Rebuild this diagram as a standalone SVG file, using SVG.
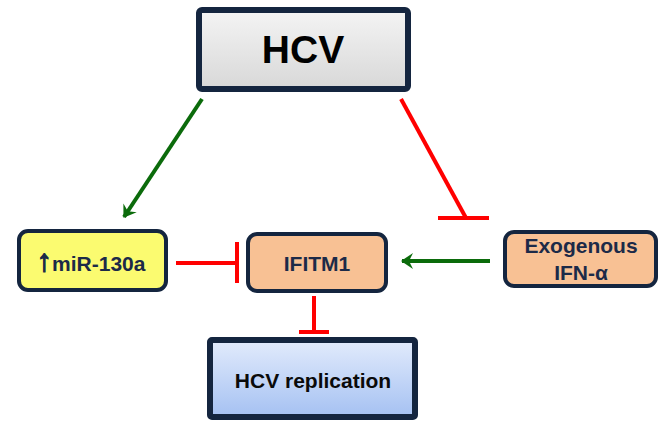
<svg xmlns="http://www.w3.org/2000/svg" width="665" height="425" viewBox="0 0 665 425">
  <defs>
    <linearGradient id="gHcv" x1="0" y1="0" x2="0" y2="1">
      <stop offset="0" stop-color="#f4f4f4"/>
      <stop offset="1" stop-color="#d8d8d8"/>
    </linearGradient>
    <linearGradient id="gRep" x1="0" y1="0" x2="0" y2="1">
      <stop offset="0" stop-color="#e2ebfc"/>
      <stop offset="1" stop-color="#a5c1f2"/>
    </linearGradient>
    <marker id="arrowGreen" viewBox="0 0 13 16" refX="11" refY="8" markerWidth="13" markerHeight="16" markerUnits="userSpaceOnUse" orient="auto">
      <path d="M0,0 L12,8 L0,16 L4,8 Z" fill="#0b6b0b"/>
    </marker>
  </defs>
  <style>
    .box { stroke: #14253f; }
    .lbl { font-family: "Liberation Sans", Arial, sans-serif; font-weight: bold; text-anchor: middle; }
    .navy { fill: #1c2a48; }
    .act { stroke: #0b6b0b; stroke-width: 4; fill: none; marker-end: url(#arrowGreen); }
    .inh { stroke: #ff0000; stroke-width: 4; fill: none; }
  </style>

  <g id="connectors">
    <!-- HCV induces miR-130a -->
    <line class="act" x1="202" y1="99" x2="124" y2="217"/>
    <!-- HCV blocks exogenous IFN-alpha -->
    <line class="inh" x1="401" y1="99" x2="466" y2="218"/>
    <line class="inh" x1="438" y1="218" x2="489" y2="218"/>
    <!-- miR-130a represses IFITM1 -->
    <line class="inh" x1="176" y1="263" x2="237" y2="263"/>
    <line class="inh" x1="237" y1="242" x2="237" y2="283"/>
    <!-- IFN-alpha induces IFITM1 -->
    <line class="act" x1="490" y1="261" x2="402" y2="261"/>
    <!-- IFITM1 blocks replication -->
    <line class="inh" x1="314" y1="296" x2="314" y2="332"/>
    <line class="inh" x1="299" y1="332" x2="329" y2="332"/>
  </g>

  <g id="hcv">
    <rect class="box" x="199" y="10" width="209" height="79" rx="3" fill="url(#gHcv)" stroke-width="6"/>
    <text class="lbl" x="303" y="63" font-size="39" fill="#000">HCV</text>
  </g>

  <g id="mir130a">
    <rect class="box" x="19" y="231" width="147" height="59" rx="9" fill="#fbfb70" stroke-width="4"/>
    <text class="lbl navy" x="91" y="271" font-size="21"><tspan font-size="31" stroke="#1c2a48" stroke-width="1.2">↑</tspan>miR-130a</text>
  </g>

  <g id="ifitm1">
    <rect class="box" x="248" y="234" width="138" height="57" rx="9" fill="#f8c194" stroke-width="4"/>
    <text class="lbl navy" x="317" y="271" font-size="21">IFITM1</text>
  </g>

  <g id="ifn">
    <rect class="box" x="505" y="232" width="151" height="54" rx="9" fill="#f8c194" stroke-width="4"/>
    <text class="lbl navy" x="581" y="253" font-size="21">Exogenous</text>
    <text class="lbl navy" x="581" y="280" font-size="21">IFN-α</text>
  </g>

  <g id="replication">
    <rect class="box" x="210" y="340" width="205" height="77" rx="2" fill="url(#gRep)" stroke-width="6"/>
    <text class="lbl" x="313" y="388" font-size="21" fill="#0a0a0a">HCV replication</text>
  </g>
</svg>
